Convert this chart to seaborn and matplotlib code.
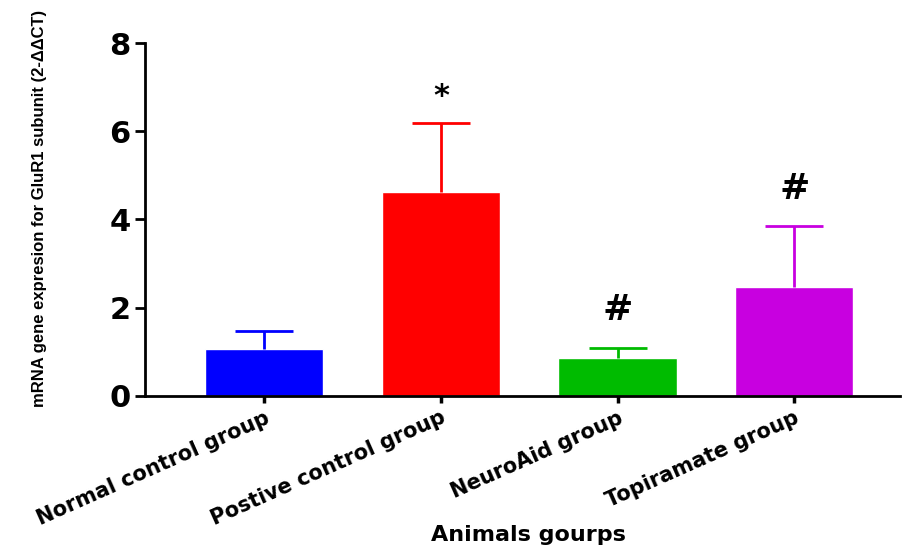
import pandas as pd
import seaborn as sns
import matplotlib.pyplot as plt

# Values (mean, upper SD)
groups = ["Normal control group", "Postive control group", "NeuroAid group", "Topiramate group"]
means = [1.07, 4.63, 0.86, 2.47]
sd = [0.40, 1.56, 0.23, 1.38]
marks = ["", "*", "#", "#"]
colors = ["#0000FF", "#FF0000", "#00BB00", "#C800E0"]

df = pd.DataFrame({"Group": groups, "Mean": means})

sns.set_style("ticks")
plt.rcParams["font.family"] = ["DejaVu Sans"]
for k in ["text.color", "axes.labelcolor", "xtick.color", "ytick.color", "axes.edgecolor"]:
    plt.rcParams[k] = "black"

fig = plt.figure(figsize=(9.02, 5.46), dpi=100)
ax = fig.add_axes([0.161, 0.275, 0.837, 0.646])

sns.barplot(data=df, x="Group", y="Mean", hue="Group", palette=colors,
            width=0.67, legend=False, ax=ax, saturation=1)

# upper-only error bars + significance marks
mark_style = {"*": (0.6, 22), "#": (0.85, 26)}
for i, (m, s) in enumerate(zip(means, sd)):
    eb = ax.errorbar(i, m, yerr=[[0], [s]], color=colors[i], lw=2, capsize=21,
                     capthick=2, zorder=1)
    eb[1][0].set_visible(False)
    if marks[i]:
        off, fs = mark_style[marks[i]]
        ax.text(i, m + s + off, marks[i], ha="center", va="center",
                fontsize=fs, fontweight="bold")

ax.set_ylim(0, 8)
ax.set_xlim(-0.674, 3.6)
ax.set_yticks([0, 2, 4, 6, 8])
ax.tick_params(axis="y", labelsize=22, width=2, length=7)
ax.tick_params(axis="x", labelsize=15, width=2.5, length=5)
for lab in ax.get_yticklabels():
    lab.set_fontweight("heavy")
for lab in ax.get_xticklabels():
    lab.set_rotation(24)
    lab.set_ha("right")
    lab.set_rotation_mode("anchor")
    lab.set_fontweight("bold")
for sp in ["left", "bottom"]:
    ax.spines[sp].set_linewidth(2)
sns.despine(ax=ax)

ax.set_ylabel("mRNA gene expresion for GluR1 subunit (2-\u0394\u0394CT)", fontsize=12,
              fontweight="bold", family=["Liberation Sans Narrow", "Liberation Sans"])
ax.yaxis.set_label_coords(-0.13, 0.53)
ax.set_xlabel("Animals gourps", fontsize=16, fontweight="bold")
ax.xaxis.set_label_coords(0.507, -0.365)

plt.savefig("out.png", dpi=100)
